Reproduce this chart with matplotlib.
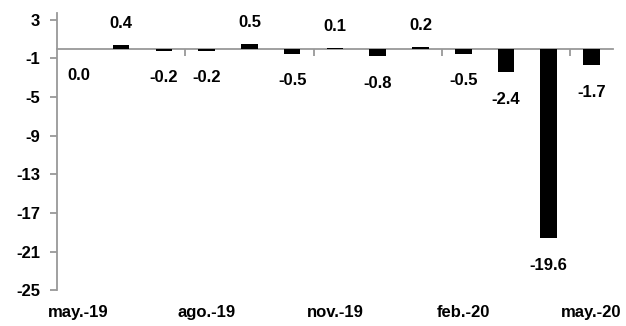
import matplotlib
matplotlib.use("Agg")
import matplotlib.pyplot as plt
import numpy as np

# Monthly change, May 2019 - May 2020
months = ["may.-19", "jun.-19", "jul.-19", "ago.-19", "sep.-19", "oct.-19",
          "nov.-19", "dic.-19", "ene.-20", "feb.-20", "mar.-20", "abr.-20", "may.-20"]
values = [0.0, 0.4, -0.2, -0.2, 0.5, -0.5, 0.1, -0.8, 0.2, -0.5, -2.4, -19.6, -1.7]
label_months = ["may.-19", "ago.-19", "nov.-19", "feb.-20", "may.-20"]
y_ticks = [3, -1, -5, -9, -13, -17, -21, -25]

plt.rcParams["font.family"] = ["Liberation Sans", "DejaVu Sans"]
plt.rcParams["font.weight"] = "bold"
fs = 12

fig = plt.figure(figsize=(6.26, 3.26), dpi=100)
ax = fig.add_axes([0.091, 0.110, 0.888, 0.850])

x = np.arange(len(values))
ax.bar(x, values, width=0.39, color="black", zorder=3)

ax.set_xlim(-0.5, len(values) - 0.5)
ax.set_ylim(-25, 3.7)

axis_grey = "#999999"

# y axis
ax.set_yticks(y_ticks)
ax.set_yticklabels([f"{t}" for t in y_ticks], fontsize=fs, fontweight="bold")
ax.tick_params(axis="y", direction="out", length=5, color=axis_grey, width=1.3, pad=7)
ax.spines["left"].set_color(axis_grey)
ax.spines["left"].set_linewidth(1.3)

# category axis drawn through zero
ax.spines["bottom"].set_position(("data", 0))
ax.spines["bottom"].set_color(axis_grey)
ax.spines["bottom"].set_linewidth(1.3)
ax.spines["top"].set_visible(False)
ax.spines["right"].set_visible(False)
ax.set_xticks([2.5, 5.5, 8.5, 11.5])
ax.set_xticklabels([])
ax.tick_params(axis="x", direction="out", length=5, color=axis_grey, width=1.3)

# month labels along the bottom edge
sec = ax.secondary_xaxis(0)
pos = [months.index(m) for m in label_months]
sec.set_xticks(pos)
sec.set_xticklabels(label_months, fontsize=fs, fontweight="bold")
sec.tick_params(axis="x", length=0, pad=11)
sec.spines["bottom"].set_visible(False)

# value labels
for xi, v in zip(x, values):
    off = 15.5 if v > 0 else -19.5
    ax.annotate(f"{v:.1f}", xy=(xi, v), xytext=(0, off), textcoords="offset points",
                ha="center", va="center", fontsize=fs, fontweight="bold")

fig.savefig("out.png", dpi=100)
